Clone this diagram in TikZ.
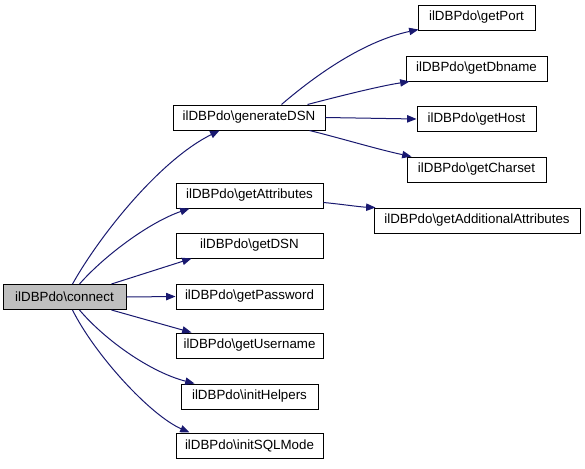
\documentclass[tikz,border=0pt]{standalone}
\usepackage{fontspec}
\setmainfont{Liberation Sans}
\usetikzlibrary{arrows.meta,calc}
\definecolor{edgeblue}{HTML}{191970}
\definecolor{curgray}{HTML}{BFBFBF}
\tikzset{
  fn/.style={draw=black, line width=0.75pt, fill=white, inner sep=0pt,
    minimum height=18.75pt, font=\fontsize{10}{12}\selectfont},
  cur/.style={fn, fill=curgray},
  call/.style={draw=edgeblue, line width=0.75pt,
    -{Triangle[length=7pt,width=5.5pt]}, fill=none},
}
\begin{document}
\begin{tikzpicture}[x=0.75pt,y=-0.75pt]
\useasboundingbox (0,0) rectangle (585,468);
\fill[white] (0,0) rectangle (585,468);
% nodes
\node[cur, minimum width=92.25pt] (connect) at (64.5,297) {ilDBPdo\textbackslash connect};
\node[fn, minimum width=114pt] (gdsn) at (249,117.5) {ilDBPdo\textbackslash generateDSN};
\node[fn, minimum width=110.25pt] (gattr) at (249.5,195.5) {ilDBPdo\textbackslash getAttributes};
\node[fn, minimum width=110.25pt] (gdsn2) at (249.5,245.5) {ilDBPdo\textbackslash getDSN};
\node[fn, minimum width=110.25pt] (gpass) at (249.5,296.5) {ilDBPdo\textbackslash getPassword};
\node[fn, minimum width=110.25pt] (guser) at (249.5,345.5) {ilDBPdo\textbackslash getUsername};
\node[fn, minimum width=102.75pt] (ihelp) at (249.5,396.5) {ilDBPdo\textbackslash initHelpers};
\node[fn, minimum width=110.25pt] (isql) at (249.5,445.5) {ilDBPdo\textbackslash initSQLMode};
\node[fn, minimum width=87.75pt] (gport) at (476.5,17.5) {ilDBPdo\textbackslash getPort};
\node[fn, minimum width=105.75pt] (gdb) at (476.5,68.5) {ilDBPdo\textbackslash getDbname};
\node[fn, minimum width=89.25pt] (ghost) at (476.5,119) {ilDBPdo\textbackslash getHost};
\node[fn, minimum width=104.25pt] (gchar) at (476.5,169.5) {ilDBPdo\textbackslash getCharset};
\node[fn, minimum width=154.5pt] (gadd) at (477,220.5) {ilDBPdo\textbackslash getAdditionalAttributes};
% edges from connect
\draw[call] ($(connect.north west)+(70,0)$) .. controls (100,235) and (160,160) .. ($(gdsn.south west)+(47,0)$);
\draw[call] ($(connect.north west)+(77,0)$) .. controls (105,255) and (150,222) .. ($(gattr.south west)+(14,0)$);
\draw[call] ($(connect.north west)+(109,0)$) -- ($(gdsn2.south west)+(16,0)$);
\draw[call] (connect.east) -- (gpass.west);
\draw[call] ($(connect.south west)+(109,0)$) -- ($(guser.north west)+(16,0)$);
\draw[call] ($(connect.south west)+(77,0)$) .. controls (105,340) and (150,372) .. ($(ihelp.north west)+(14,0)$);
\draw[call] ($(connect.south west)+(70,0)$) .. controls (95,355) and (150,415) .. ($(isql.north west)+(14,0)$);
% edges from generateDSN
\draw[call] ($(gdsn.north west)+(109,0)$) .. controls (310,80) and (360,42) .. ($(gport.south west)+(1,-1)$);
\draw[call] ($(gdsn.north west)+(135,0)$) .. controls (340,96) and (380,86) .. ($(gdb.south west)+(4,0)$);
\draw[call] (gdsn.east) -- (ghost.west);
\draw[call] ($(gdsn.south west)+(137,0)$) .. controls (340,138) and (380,150) .. ($(gchar.north west)+(5,0)$);
% edge from getAttributes
\draw[call] ($(gattr.east)+(0,7)$) .. controls (340,204) and (360,207) .. ($(gadd.north west)+(2,0)$);
\end{tikzpicture}
\end{document}
